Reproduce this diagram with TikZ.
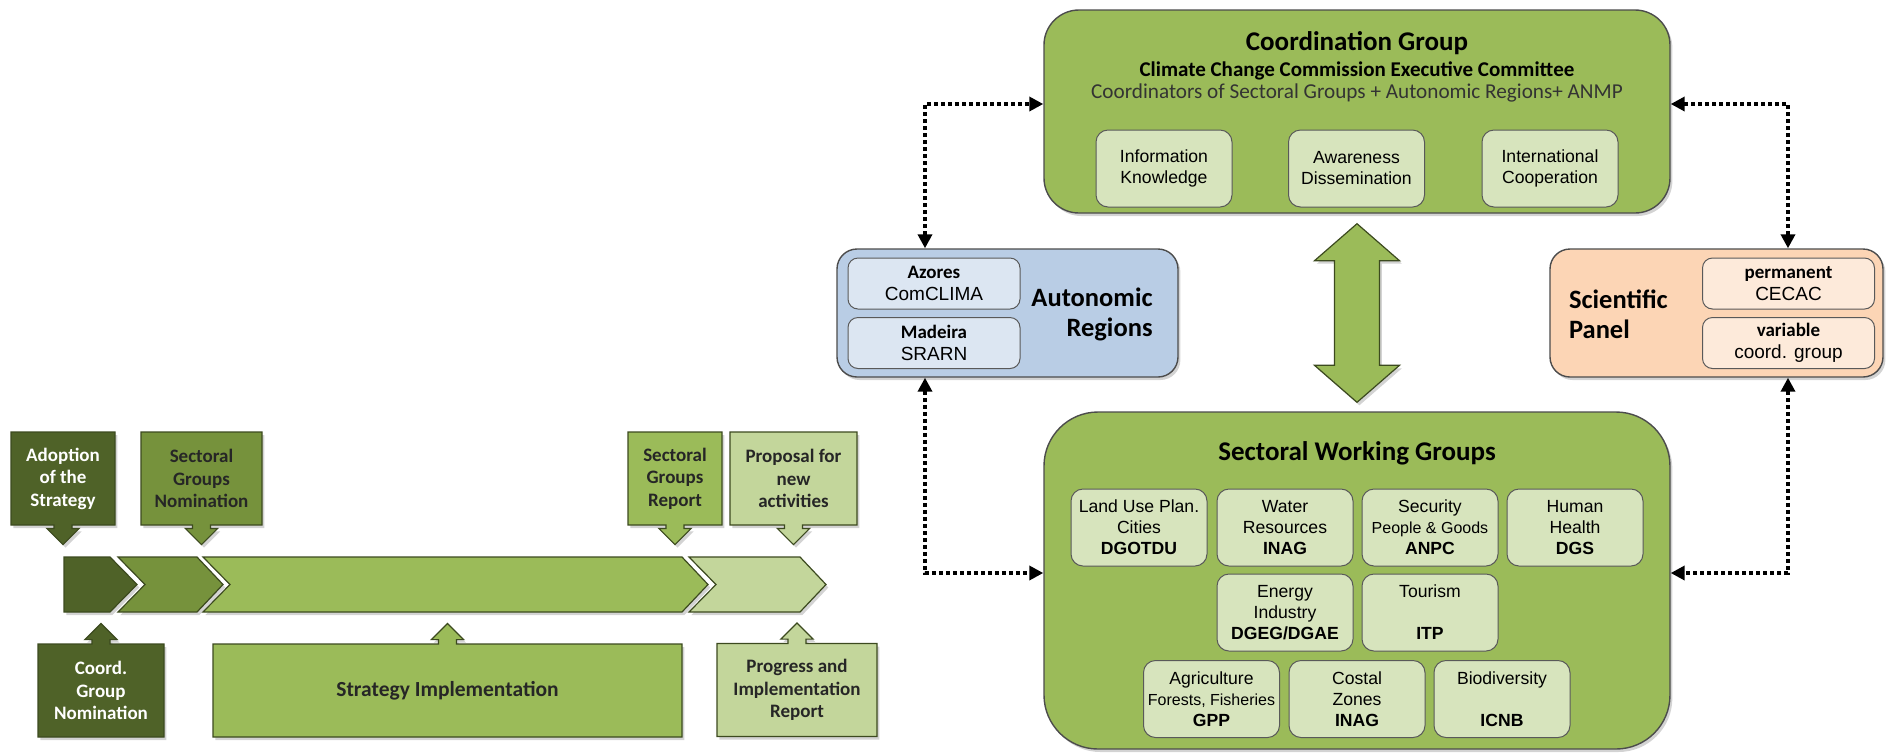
\documentclass[tikz,border=0pt]{standalone}
\usepackage{fontspec}
\setmainfont{Carlito}
\newfontfamily\arialfont{Liberation Sans}
\usetikzlibrary{positioning, shapes.arrows, shadows, calc, arrows.meta}

\definecolor{olivedark}{HTML}{4F6228}
\definecolor{olivemid}{HTML}{76923C}
\definecolor{olive}{HTML}{9BBB59}
\definecolor{olivelight}{HTML}{C3D69B}
\definecolor{olivepale}{HTML}{D7E4BD}
\definecolor{regionblue}{HTML}{B9CDE5}
\definecolor{regionpale}{HTML}{DCE6F2}
\definecolor{panelorange}{HTML}{FCD5B5}
\definecolor{panelpale}{HTML}{FDEADA}
\definecolor{edge}{HTML}{3C4A1F}

\begin{document}
\begin{tikzpicture}[x=0.5pt, y=-0.5pt,
        shadowed/.style={drop shadow={shadow xshift=1.2pt, shadow yshift=-1.5pt, opacity=.35}},
        callout/.style={shape=arrow box, draw=edge, line width=0.6pt, align=center,
                        inner sep=0pt, minimum height=46.5pt, text=black!85,
                        arrow box shaft width=9pt, arrow box head extend=3.6pt,
                        font=\fontsize{9.5}{11.25}\selectfont\bfseries, shadowed},
        pointdown/.style={arrow box arrows={south:9.5pt}},
        pointup/.style={arrow box arrows={north:10pt}},
        chev/.style={draw=edge, line width=0.6pt, shadowed},
        group/.style={draw=black!70, line width=0.7pt, rounded corners=#1, shadowed},
        unit/.style={draw=black!65, line width=0.5pt, rounded corners=6pt, fill=olivepale,
                     minimum width=68pt, minimum height=38.5pt, align=center, inner sep=0pt,
                     font=\arialfont\fontsize{8.8}{10.5}\selectfont},
        region/.style={draw=black!65, line width=0.5pt, rounded corners=5pt,
                       minimum width=86pt, minimum height=25.5pt, align=center, inner sep=0pt,
                       font=\fontsize{9.5}{11}\selectfont},
        heading/.style={font=\fontsize{13.25}{15}\selectfont\bfseries},
        link/.style={line width=1.9pt, dash pattern=on 1.9pt off 1.6pt,
                     {Triangle[length=7pt, width=7pt]}-{Triangle[length=7pt, width=7pt]}},
    ]
    \useasboundingbox (0,0) rectangle (1887,752);

    % Timeline bar
    \filldraw[fill=olivedark, chev] (64,557) -- (110,557) -- (137,584.5) -- (110,612) -- (64,612) -- cycle;
    \foreach \l/\r/\c in {118/197/olivemid, 203/682/olive, 689/800/olivelight} {
        \filldraw[fill=\c, chev] (\l,557) -- (\r,557) -- (\r+26,584.5) -- (\r,612)
            -- (\l,612) -- (\l+27,584.5) -- cycle;
    }

    % Milestones above the bar
    \node[callout, pointdown, fill=olivedark, text=white, minimum width=52pt] (adopt) at (63,478.5) {Adoption\\of the\\Strategy};
    \node[callout, pointdown, fill=olivemid, minimum width=60.5pt] (sgnom) at (201.5,478.5) {Sectoral\\Groups\\Nomination};
    \node[callout, pointdown, fill=olive, minimum width=47pt] (sgrep) at (675,478.5) {Sectoral\\Groups\\Report};
    \node[callout, pointdown, fill=olivelight, minimum width=63.5pt] (newact) at (793.5,478.5) {Proposal for\\new\\activities};

    % Milestones below the bar
    \node[callout, pointup, fill=olivedark, text=white, minimum width=63pt] (cgnom) at (101,690.5) {Coord.\\Group\\Nomination};
    \node[callout, pointup, fill=olive, minimum width=234.5pt, font=\fontsize{10.75}{13}\selectfont\bfseries] (impl) at (447.5,690.5) {Strategy Implementation};
    \node[callout, pointup, fill=olivelight, minimum width=80pt] (report) at (797,690) {Progress and\\Implementation\\Report};

    % Coordination group
    \node[group=17.5pt, fill=olive, minimum width=313pt, minimum height=101.5pt] (coord) at (1357,111.5) {};
    \node[anchor=base, font=\fontsize{13.5}{16}\selectfont\bfseries] (coordtitle) at (1357,50) {Coordination Group};
    \node[anchor=base, font=\fontsize{10.5}{12}\selectfont\bfseries] (committee) at (1357,76) {Climate Change Commission Executive Committee};
    \node[anchor=base, font=\fontsize{10.6}{12}\selectfont, text=black!80] (members) at (1357,98) {Coordinators of Sectoral Groups + Autonomic Regions+ ANMP};
    \node[unit] (info) at (1164,168.5) {Information\\Knowledge};
    \node[unit] (aware) at (1356.5,168.5) {Awareness\\Dissemination};
    \node[unit] (intl) at (1550,168.5) {International\\Cooperation};

    % Sectoral working groups
    \node[group=27pt, fill=olive, minimum width=313pt, minimum height=168.5pt] (swg) at (1357,580.5) {};
    \node[anchor=base, font=\fontsize{13.5}{16}\selectfont\bfseries] (swgtitle) at (1357,460) {Sectoral Working Groups};
    \node[unit] (land) at (1139,527.5) {Land Use Plan.\\Cities\\\textbf{DGOTDU}};
    \node[unit] (water) at (1285,527.5) {Water\\Resources\\\textbf{INAG}};
    \node[unit] (secur) at (1430,527.5) {Security\\{\fontsize{8}{10.5}\selectfont People \& Goods}\\\textbf{ANPC}};
    \node[unit] (health) at (1575,527.5) {Human\\Health\\\textbf{DGS}};
    \node[unit] (energy) at (1285,612.5) {Energy\\Industry\\\textbf{DGEG/DGAE}};
    \node[unit] (tour) at (1430,612.5) {Tourism\\~\\\textbf{ITP}};
    \node[unit] (agri) at (1211.5,699) {Agriculture\\{\fontsize{8}{10.5}\selectfont Forests, Fisheries}\\\textbf{GPP}};
    \node[unit] (coast) at (1357,699) {Costal\\Zones\\\textbf{INAG}};
    \node[unit] (bio) at (1502,699) {Biodiversity\\~\\\textbf{ICNB}};

    % Autonomic regions
    \node[group=10pt, fill=regionblue, minimum width=170.5pt, minimum height=64pt] (auto) at (1007.5,313) {};
    \node[region, fill=regionpale] (azores) at (934,283.5) {\textbf{Azores}\\{\arialfont ComCLIMA}};
    \node[region, fill=regionpale] (madeira) at (934,343) {\textbf{Madeira}\\{\arialfont SRARN}};
    \node[heading, align=right] (autotitle) at (1092,314) {Autonomic\\Regions};

    % Scientific panel
    \node[group=10pt, fill=panelorange, minimum width=166.5pt, minimum height=64pt] (panel) at (1716.5,313) {};
    \node[region, fill=panelpale] (perm) at (1788.5,283.5) {\textbf{permanent}\\{\arialfont CECAC}};
    \node[region, fill=panelpale] (var) at (1788.5,343) {\textbf{variable}\\{\arialfont coord. group}};
    \node[heading, align=left, anchor=west] (paneltitle) at (1562,314) {Scientific\\Panel};

    % Two-way arrow between the groups
    \coordinate (tiptop) at ($(coord.south)+(0,10)$);
    \coordinate (tipbot) at ($(swg.north)+(0,-9)$);
    \filldraw[fill=olive, chev] (tiptop) -- ++(42.5,37) -- ++(-20,0) -- ($(tipbot)+(22.5,-37)$)
        -- ++(20,0) -- (tipbot) -- ++(-42.5,-37) -- ++(20,0) -- ($(tiptop)+(-22.5,37)$)
        -- ++(-20,0) -- cycle;

    % Dotted links
    \coordinate (nw) at (925,104);
    \coordinate (sw) at (925,573);
    \coordinate (ne) at (1788,104);
    \coordinate (se) at (1788,573);
    \draw[link] (auto.north -| nw) |- (coord.west |- nw);
    \draw[link] (auto.south -| sw) |- (swg.west |- sw);
    \draw[link] (panel.north -| ne) |- (coord.east |- ne);
    \draw[link] (panel.south -| se) |- (swg.east |- se);
\end{tikzpicture}
\end{document}
